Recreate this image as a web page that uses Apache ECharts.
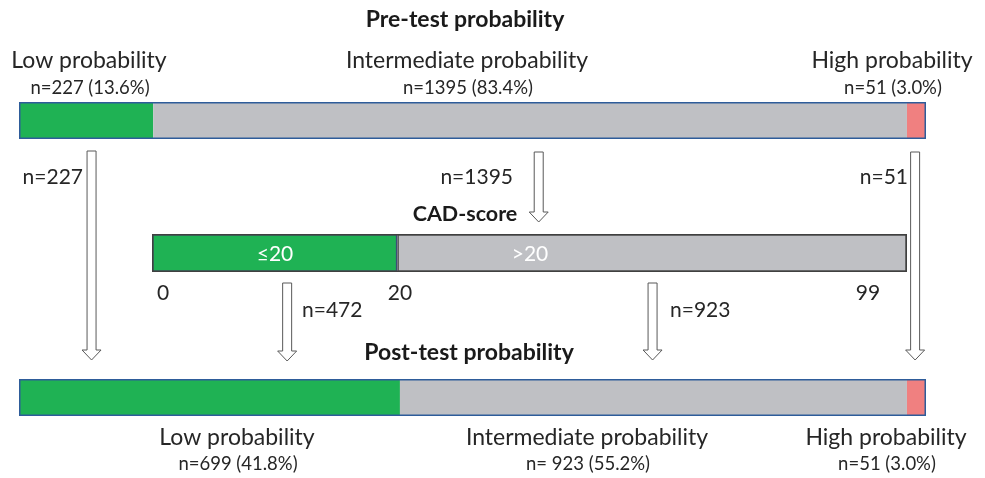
<!DOCTYPE html>
<html>
<head>
<meta charset="utf-8">
<script src="https://cdn.jsdelivr.net/npm/echarts@6/dist/echarts.min.js"></script>
<style>
  html, body { margin: 0; padding: 0; background: #fff; }
  #chart { width: 985px; height: 478px; }
</style>
</head>
<body>
<div id="chart"></div>
<script>
// segment widths as drawn (share of each bar, %)
const preNames = ['Low probability', 'Intermediate probability', 'High probability'];
const preCounts = ['n=227 (13.6%)', 'n=1395 (83.4%)', 'n=51 (3.0%)'];
const preWidths = [14.8, 83.1, 2.1];

const cadNames = ['≤20', '>20'];
const cadWidths = [32.5, 67.5];
const cadTicks = ['0', '20', '99'];

const postNames = ['Low probability', 'Intermediate probability', 'High probability'];
const postCounts = ['n=699 (41.8%)', 'n= 923 (55.2%)', 'n=51 (3.0%)'];
const postWidths = [42.0, 55.9, 2.1];

const flowLabels = ['n=227', 'n=1395', 'n=51', 'n=472', 'n=923'];
// arrow position along its source bar (%)
const flowAt = [8.0, 57.3, 98.8, 17.9, 66.3];

const segColors = ['#1fb254', '#bfc0c4', '#f08080'];
const FONT = 'Lato';

const chart = echarts.init(document.getElementById('chart'));

function barSeries(gridIdx, widths, colors, border, borderW) {
  return widths.map((w, i) => ({
    type: 'bar',
    xAxisIndex: gridIdx,
    yAxisIndex: gridIdx,
    stack: 'g' + gridIdx,
    barWidth: '100%',
    silent: true,
    data: [w],
    itemStyle: {
      color: colors[i],
      borderColor: border ? border[i] : colors[i],
      borderWidth: border ? borderW : 0
    }
  }));
}

// thin frame around the whole bar
function outline(gridIdx, widths, color, w) {
  return {
    type: 'bar',
    xAxisIndex: gridIdx,
    yAxisIndex: gridIdx,
    barWidth: '100%',
    barGap: '-100%',
    silent: true,
    z: 5,
    data: [widths.reduce((a, b) => a + b, 0)],
    itemStyle: { color: 'transparent', borderColor: color, borderWidth: w }
  };
}

const grids = [
  { left: 19, top: 102, width: 907, height: 37 },
  { left: 152, top: 234, width: 755, height: 38 },
  { left: 19, top: 379, width: 907, height: 37 }
];

const option = {
  animation: false,
  backgroundColor: '#fff',
  grid: grids,
  xAxis: grids.map((g, i) => ({ type: 'value', gridIndex: i, min: 0, max: 100, show: false })),
  yAxis: grids.map((g, i) => ({ type: 'category', gridIndex: i, data: ['bar'], show: false })),
  series: [
    ...barSeries(0, preWidths, segColors),
    outline(0, preWidths, '#2e5c9a', 1.5),
    ...barSeries(1, cadWidths, segColors, ['#3b4e78', '#555'], 1.5),
    outline(1, cadWidths, '#404040', 1.5),
    ...barSeries(2, postWidths, segColors),
    outline(2, postWidths, '#2e5c9a', 1.5)
  ]
};
chart.setOption(option);

function txt(text, x, y, size, opts) {
  opts = opts || {};
  return {
    type: 'text',
    x: x,
    y: y,
    z: 20,
    style: {
      text: text,
      fill: opts.color || (opts.bold ? '#1a1a1a' : '#262626'),
      font: (opts.bold ? 'bold ' : '') + size + 'px ' + FONT,
      textAlign: opts.align || 'center',
      textVerticalAlign: 'middle'
    }
  };
}

function arrow(cx, y0, y1) {
  const s = 4.5, h = 9.5, hh = 10;
  return {
    type: 'polygon',
    z: 10,
    shape: {
      points: [
        [cx - s, y0], [cx + s, y0], [cx + s, y1 - hh], [cx + h, y1 - hh],
        [cx, y1], [cx - h, y1 - hh], [cx - s, y1 - hh]
      ]
    },
    style: { fill: '#fff', stroke: '#595959', lineWidth: 1 }
  };
}

const px = (gridIdx, v) => chart.convertToPixel({ gridIndex: gridIdx }, [v, 'bar'])[0];

const preX = [89, 467, 892];
const postX = [237, 587, 886];

const graphics = [
  txt('Pre-test probability', 465, 20, 23, { bold: true }),
  txt('CAD-score', 465, 214, 21.5, { bold: true }),
  txt('Post-test probability', 469, 353, 23, { bold: true })
];
preNames.forEach((n, i) => {
  graphics.push(txt(n, preX[i], 61, 23));
  graphics.push(txt(preCounts[i], preX[i] + 1, 88, 18.5));
});
postNames.forEach((n, i) => {
  graphics.push(txt(n, postX[i], 438, 23));
  graphics.push(txt(postCounts[i], postX[i] + 1, 464, 18.5));
});
graphics.push(txt(cadNames[0], 275, 254, 21, { color: '#fff' }));
graphics.push(txt(cadNames[1], 530, 254, 21, { color: '#fff' }));
[163, 400, 868].forEach((x, i) => graphics.push(txt(cadTicks[i], x, 293, 21)));

graphics.push(txt(flowLabels[0], 83, 177, 21, { align: 'right' }));
graphics.push(txt(flowLabels[1], 513, 177, 21, { align: 'right' }));
graphics.push(txt(flowLabels[2], 908, 177, 21, { align: 'right' }));
graphics.push(txt(flowLabels[3], 302, 310, 21, { align: 'left' }));
graphics.push(txt(flowLabels[4], 670, 310, 21, { align: 'left' }));

graphics.push(arrow(px(0, flowAt[0]), 151, 360));
graphics.push(arrow(px(0, flowAt[1]), 152, 222));
graphics.push(arrow(px(0, flowAt[2]), 152, 360));
graphics.push(arrow(px(1, flowAt[3]), 283, 361));
graphics.push(arrow(px(1, flowAt[4]), 283, 360));

chart.setOption({ graphic: graphics });
</script>
</body>
</html>
